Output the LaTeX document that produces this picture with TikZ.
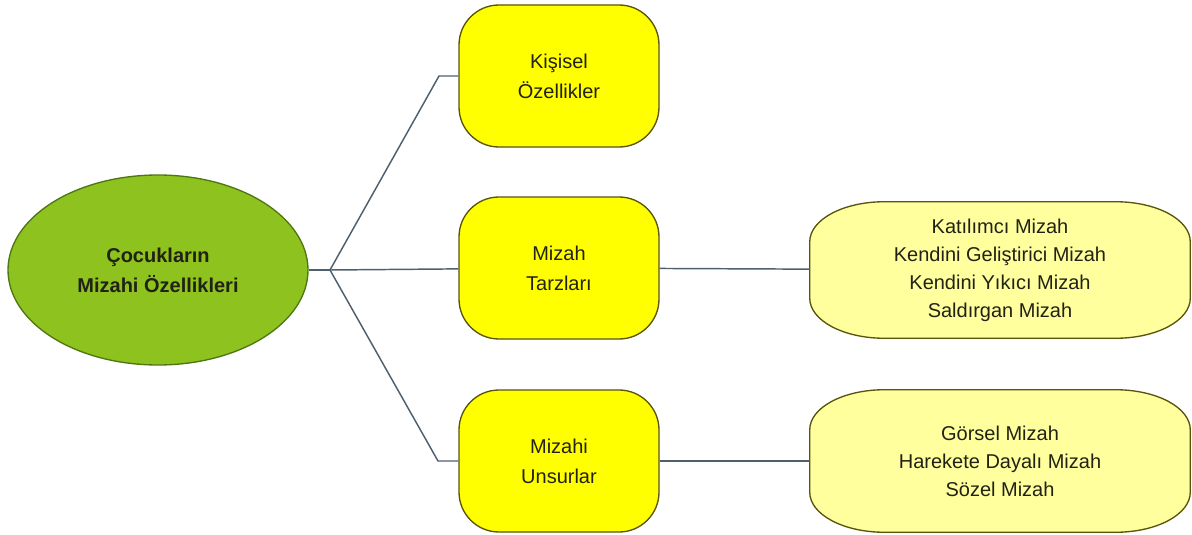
\documentclass[tikz,border=0pt]{standalone}
\usepackage{fontspec}
\setmainfont{Liberation Sans}
\usetikzlibrary{shapes.geometric,backgrounds}

\definecolor{rootgreen}{RGB}{141,194,31}
\definecolor{rootedge}{RGB}{78,118,18}
\definecolor{boxyellow}{RGB}{255,255,0}
\definecolor{boxedge}{RGB}{88,84,10}
\definecolor{paleyellow}{RGB}{255,255,158}
\definecolor{linkgray}{RGB}{78,96,110}
\definecolor{inkdark}{RGB}{34,34,20}

\begin{document}
\begin{tikzpicture}[x=0.75pt,y=-0.75pt,
  rootnode/.style={ellipse,draw=rootedge,fill=rootgreen,line width=1pt,inner sep=0pt,
    minimum width=225pt,minimum height=142.5pt,align=center,text=inkdark,
    font=\fontsize{15}{22.5}\selectfont\bfseries},
  yellowbox/.style={rectangle,rounded corners=30pt,draw=boxedge,fill=boxyellow,line width=1pt,
    inner sep=0pt,minimum width=150pt,minimum height=106.5pt,align=center,text=inkdark,
    font=\fontsize{15}{22.5}\selectfont},
  listbox/.style={rectangle,inner sep=0pt,minimum width=285pt,align=center,text=inkdark,
    font=\fontsize{15}{21}\selectfont},
  softbox/.style={draw=boxedge,fill=paleyellow,line width=1pt},
  link/.style={draw=linkgray,line width=1.1pt}]
\useasboundingbox (0,0) rectangle (1192,535);

%Shape: Ellipse [root]
\node[rootnode] (cocuk) at (158,270) {Çocukların\\Mizahi Özellikleri};

%Shape: Rounded Rect [second level]
\node[yellowbox] (kisisel) at (559,76) {Kişisel\\Özellikler};
\node[yellowbox] (tarzlar) at (559,268) {Mizah\\Tarzları};
\node[yellowbox] (unsurlar) at (559,461) {Mizahi\\Unsurlar};

%Shape: Rounded Rect [third level]
\node[listbox,minimum height=102pt] (tarzlist) at (1000,270)
  {Katılımcı Mizah\\Kendini Geliştirici Mizah\\Kendini Yıkıcı Mizah\\Saldırgan Mizah};
\node[listbox,minimum height=106.5pt] (unsurlist) at (1000,461)
  {Görsel Mizah\\Harekete Dayalı Mizah\\Sözel Mizah};

\begin{pgfonlayer}{background}
\foreach \n in {tarzlist,unsurlist}{
  \draw[softbox] ([xshift=56pt]\n.north west) -- ([xshift=-56pt]\n.north east)
    arc[start angle=90,end angle=0,x radius=56pt,y radius=30pt]
    -- ([yshift=30pt]\n.south east)
    arc[start angle=0,end angle=-90,x radius=56pt,y radius=30pt]
    -- ([xshift=56pt]\n.south west)
    arc[start angle=270,end angle=180,x radius=56pt,y radius=30pt]
    -- ([yshift=-30pt]\n.north west)
    arc[start angle=180,end angle=90,x radius=56pt,y radius=30pt] -- cycle;
}
\end{pgfonlayer}

%Straight Lines [branches]
\coordinate (fork) at (330,270);
\coordinate (kneetop) at (439,76);
\coordinate (kneebot) at (438,461);
\draw[link] (cocuk) -- (fork);
\draw[link] (fork) -- (kneetop) -- (kisisel);
\draw[link] (fork) -- (tarzlar);
\draw[link] (fork) -- (kneebot) -- (unsurlar);
\draw[link] (tarzlar) -- (tarzlist);
\draw[link] (unsurlar) -- (unsurlist);

\end{tikzpicture}
\end{document}
